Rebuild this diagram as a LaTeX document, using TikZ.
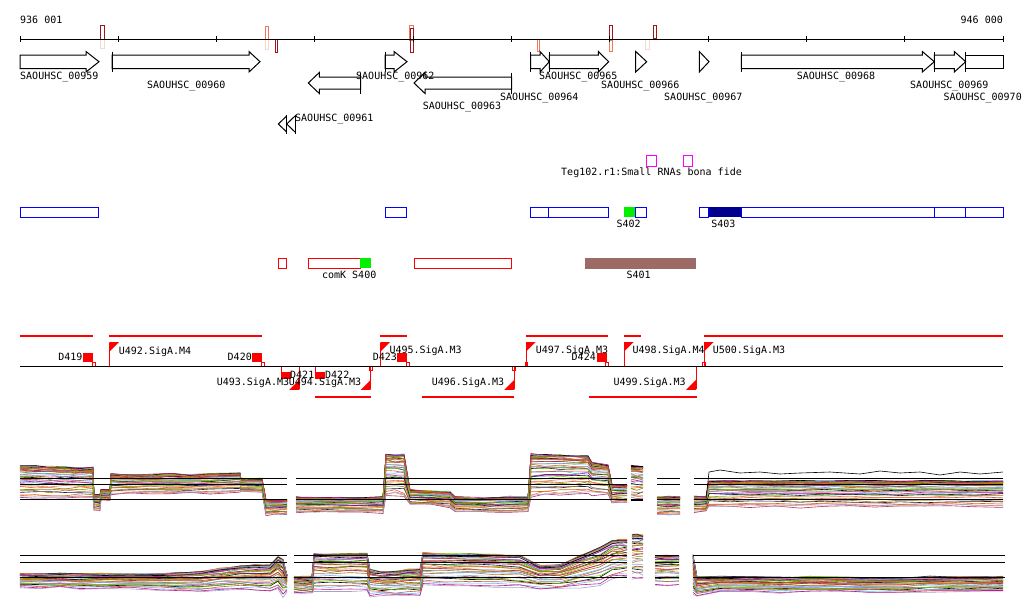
\documentclass[tikz,border=0pt]{standalone}
\usepackage{fontspec}
\newfontfamily\monof{DejaVu Sans Mono}
\definecolor{dred}{HTML}{A0141E}
\definecolor{salm}{HTML}{F0785A}
\definecolor{lpink}{HTML}{F8D8CC}
\definecolor{sbrown}{HTML}{9C6B66}
\definecolor{navyb}{HTML}{00008C}
\definecolor{mag}{HTML}{FF00FF}
\definecolor{grn}{HTML}{00F000}
\definecolor{tured}{HTML}{FF0000}
\definecolor{pc0}{HTML}{D2691E}
\definecolor{pc1}{HTML}{8B8B00}
\definecolor{pc2}{HTML}{66CD00}
\definecolor{pc3}{HTML}{63B8FF}
\definecolor{pc4}{HTML}{B03060}
\definecolor{pc5}{HTML}{1A1A5A}
\definecolor{pc6}{HTML}{CD5C3C}
\definecolor{pc7}{HTML}{A2A2D0}
\definecolor{pc8}{HTML}{A0782B}
\definecolor{pc9}{HTML}{EE7942}
\definecolor{pc10}{HTML}{C71585}
\definecolor{pc11}{HTML}{000000}
\tikzset{
  gene/.style={draw=black,line width=1pt},
  lbl/.style={font=\monof\fontsize{10}{12}\selectfont,inner sep=0pt,text height=7.3pt,text depth=0pt},
  feat/.style={line width=1pt},
  tuline/.style={draw=tured,line width=1.4pt},
  prof/.style={line width=0.6pt},
  thr/.style={line width=1.1pt,draw=black},
}
\newcommand\fgene[3]{\draw[gene] (#1,55)--(#2,55)--(#2,51.5)--(#3,61.7)--(#2,72)--(#2,68.5)--(#1,68.5)--cycle;}
\newcommand\gbar[1]{\draw[gene] (#1,51.5)--(#1,72);}
\newcommand\rgene[3]{\draw[gene] (#3,77)--(#2,77)--(#2,72.5)--(#1,83)--(#2,93.5)--(#2,89)--(#3,89)--cycle;}
\newcommand\rbar[1]{\draw[gene] (#1,72.5)--(#1,93.5);}
\newcommand\fprom[1]{\draw[red,feat] (#1,342.7)--(#1,366); \fill[red] (#1,342.2)--(#1+9.5,342.2)--(#1,351.7)--cycle;}
\newcommand\rprom[1]{\draw[red,feat] (#1,366)--(#1,389.3); \fill[red] (#1,389.8)--(#1-10,389.8)--(#1,379.8)--cycle;}
\newcommand\tterm[1]{\fill[red] (#1,353.3) rectangle ++(10,8.7); \draw[red,line width=0.8pt] (#1+9,362) rectangle ++(2.6,4);}
\newcommand\bterm[1]{\draw[red,feat] (#1,366)--(#1,372); \fill[red] (#1,371.7) rectangle ++(9.5,7.6);}
\newcommand\exbundle[5]{%
\foreach \i in {1,...,38}{%
 \pgfmathsetmacro\ff{(mod(\i*0.618034+#1,1))^2.1}%
 \pgfmathtruncatemacro\ci{mod(\i*7,12)}%
 \draw[prof,draw=pc\ci] (#2,{#3+\ff*(#4-#3)+(rnd-0.5)*2}) \foreach \x/\t/\b in {#5}{ -- (\x,{\t+min(1,max(0,\ff+(rnd-0.5)*0.05))*(\b-\t)+(rnd-0.5)*2})};
}}
\begin{document}
\begin{tikzpicture}[x=1pt,y=-1pt]
\pgfmathsetseed{7}
\useasboundingbox (0,0) rectangle (1024,611);
\fill[white] (0,0) rectangle (1024,611);

% ruler markers
\draw[dred,feat] (100,25) rectangle (104,39);
\draw[lpink,feat] (100,39) rectangle (104,48);
\draw[salm,feat] (265.3,26) rectangle (268.7,39);
\draw[lpink,feat] (265.3,39) rectangle (268.7,49);
\draw[dred,feat] (275,39) rectangle (277.7,52);
\draw[salm,feat] (409,25) rectangle (413,40);
\draw[dred,feat] (410,28) rectangle (413,52);
\draw[salm,feat] (537.3,39) rectangle (539.3,51);
\draw[dred,feat] (609.3,25) rectangle (612.7,40);
\draw[salm,feat] (609.3,40) rectangle (612.7,51);
\draw[lpink,feat] (645,39) rectangle (649.3,49);
\draw[dred,feat] (653.3,25) rectangle (656.3,38);

% ruler
\draw[black,line width=1pt] (20,39)--(1003,39);
\foreach \k in {0,...,10}{\draw[black,line width=1pt] ({20+\k*98.3},36)--({20+\k*98.3},42);}
\node[lbl,anchor=west] (r1) at (20,20) {936 001};
\node[lbl,anchor=east] (r2) at (1003,20) {946 000};

% genes
\fgene{20}{86}{99}
\fgene{112}{249}{260} \gbar{112}
\fgene{385}{394}{407} \gbar{385}
\fgene{530.7}{540}{549.3} \gbar{530.7}
\fgene{549.3}{598.3}{608.7} \gbar{549.3}
\draw[gene] (635.7,51.5)--(646.7,61.7)--(635.7,72)--cycle;
\draw[gene] (699.3,51.5)--(709,61.7)--(699.3,72)--cycle;
\fgene{741.3}{922.3}{934.3} \gbar{741.3}
\fgene{934.3}{954.3}{965.7} \gbar{934.3}
\draw[gene] (965.7,55) rectangle (1003.3,68.5); \gbar{965.7}
\rgene{308.3}{319.3}{360.7} \rbar{360.7}
\rgene{414}{425}{511.7} \rbar{511.7}
\draw[gene] (286.7,116)--(278.3,124)--(286.7,132);
\draw[gene] (295,116)--(286.7,124)--(295,132);
\draw[gene] (286.7,114.5)--(286.7,134);
\draw[gene] (295,114.5)--(295,134);

\node[lbl,anchor=west] (l959) at (20,76) {SAOUHSC\_00959};
\node[lbl,anchor=west] (l960) at (147,85) {SAOUHSC\_00960};
\node[lbl,anchor=west] (l961) at (295,118.3) {SAOUHSC\_00961};
\node[lbl,anchor=west] (l962) at (356,76) {SAOUHSC\_00962};
\node[lbl,anchor=west] (l963) at (422.7,106) {SAOUHSC\_00963};
\node[lbl,anchor=west] (l964) at (500,97.3) {SAOUHSC\_00964};
\node[lbl,anchor=west] (l965) at (539,76) {SAOUHSC\_00965};
\node[lbl,anchor=west] (l966) at (601,85) {SAOUHSC\_00966};
\node[lbl,anchor=west] (l967) at (664,97.3) {SAOUHSC\_00967};
\node[lbl,anchor=west] (l968) at (796.7,76) {SAOUHSC\_00968};
\node[lbl,anchor=west] (l969) at (910,85) {SAOUHSC\_00969};
\node[lbl,anchor=west] (l970) at (943.3,97.3) {SAOUHSC\_00970};

% small RNAs
\draw[mag,feat] (646.3,155.3) rectangle (656.7,166);
\draw[mag,feat] (683.3,155.3) rectangle (692.7,166);
\node[lbl,anchor=west] (teg) at (561,172.3) {Teg102.r1:Small RNAs bona fide};

% blue row
\fill[grn] (624,207.3) rectangle (635.3,217.3);
\fill[navyb] (708.7,207.3) rectangle (741.3,217.3);
\draw[blue,feat] (20,207.3) rectangle (98.7,217.3);
\draw[blue,feat] (385.3,207.3) rectangle (406.7,217.3);
\draw[blue,feat] (530.3,207.3) rectangle (548.7,217.3);
\draw[blue,feat] (548.7,207.3) rectangle (608.7,217.3);
\draw[blue,feat] (635.3,207.3) rectangle (646.7,217.3);
\draw[blue,feat] (699.7,207.3) rectangle (708.7,217.3);
\draw[blue,feat] (741.3,207.3) rectangle (934.3,217.3);
\draw[blue,feat] (934.3,207.3) rectangle (965.3,217.3);
\draw[blue,feat] (965.3,207.3) rectangle (1003.3,217.3);
\node[lbl] (s402) at (628.7,224) {S402};
\node[lbl] (s403) at (723.3,224) {S403};

% red row
\draw[red,feat] (278.3,258.3) rectangle (286.7,268.3);
\draw[red,feat] (308.3,258.3) rectangle (360,268.3);
\fill[grn] (360,258.3) rectangle (371,268.3);
\draw[red,feat] (414.3,258.3) rectangle (511.7,268.3);
\fill[sbrown] (585,258) rectangle (696,268.7);
\node[lbl] (s400) at (349.2,275) {comK S400};
\node[lbl] (s401) at (638.7,275) {S401};

% transcription units
\draw[tuline] (20,336)--(92.7,336);
\draw[tuline] (109.3,336)--(261.7,336);
\draw[tuline] (380,336)--(406.7,336);
\draw[tuline] (525.7,336)--(607.7,336);
\draw[tuline] (624,336)--(640.7,336);
\draw[tuline] (704,336)--(1003.3,336);
\draw[tuline] (315.3,397)--(370.7,397);
\draw[tuline] (422.3,397)--(514.3,397);
\draw[tuline] (589.3,397)--(696.7,397);

\tterm{83.3}
\tterm{252.3}
\tterm{397.3}
\tterm{596.7}
\bterm{281}
\bterm{315.3}
\fprom{109.3}
\fprom{380.3}
\fprom{526}
\fill[red] (524.5,362) rectangle (528,366);
\fprom{624}
\fprom{704}
\draw[red,line width=0.8pt] (702,362) rectangle (705,366);
\rprom{299.3}
\rprom{370.7}
\draw[red,line width=0.8pt] (369.3,366.5) rectangle (372.3,370);
\rprom{514.3}
\draw[red,line width=0.8pt] (512.8,366.5) rectangle (515.8,370);
\rprom{696}
\draw[black,line width=1pt] (20,366)--(1003,366);

\node[lbl,anchor=east] (d419) at (82.7,356.7) {D419};
\node[lbl,anchor=east] (d420) at (252,356.7) {D420};
\node[lbl,anchor=west] (d421) at (290,375) {D421};
\node[lbl,anchor=west] (d422) at (325,375) {D422};
\node[lbl,anchor=west] (d423) at (372.7,357.3) {D423};
\node[lbl,anchor=east] (d424) at (596,357.3) {D424};
\node[lbl,anchor=west] (u492) at (118.7,350.7) {U492.SigA.M4};
\node[lbl,anchor=east] (u493) at (289.3,382.3) {U493.SigA.M3};
\node[lbl,anchor=west] (u494) at (288.7,382.3) {U494.SigA.M3};
\node[lbl,anchor=west] (u495) at (389.3,350) {U495.SigA.M3};
\node[lbl,anchor=west] (u496) at (431.7,382.3) {U496.SigA.M3};
\node[lbl,anchor=west] (u497) at (535.7,350) {U497.SigA.M3};
\node[lbl,anchor=west] (u498) at (632.3,350) {U498.SigA.M4};
\node[lbl,anchor=west] (u499) at (613.3,382.3) {U499.SigA.M3};
\node[lbl,anchor=west] (u500) at (712.7,350) {U500.SigA.M3};

% expression profiles - upper panel
\exbundle{0.1}{20}{466}{499}{35/466/499, 50/467/499, 65/467/499, 80/468/499, 93/468/499, 94/495/510, 100/495/510, 101/490/500, 110/490/500, 111/474/495, 130/475/494, 150/475/494, 170/474/494, 190/475/494, 210/474/494, 240/473/493, 241/479/492, 262/479/492, 266/500/515, 276/500/515, 287/500/515}
\exbundle{0.1}{296}{497}{513}{315/498/512, 340/498/512, 360/498/512, 383/497/513, 386/454/497, 395/455/497, 404/455/498, 410/490/505, 430/491/505, 450/492/507, 455/497/512, 475/498/512, 490/498/512, 510/497/512, 528/497/512, 531/454/498, 545/455/496, 560/455/496, 575/456/495, 588/456/494, 592/463/495, 608/465/496, 612/485/503, 620/485/503, 627/485/503}
\exbundle{0.1}{631}{466}{500}{637/466/500, 643/466/500}
\exbundle{0.1}{657}{497}{515}{668/497/515, 680/497/515}
\exbundle{0.1}{694}{497}{512}{706/497/512, 709/481/507, 730/481/507, 750/481/507, 775/481/507, 800/481/508, 825/481/507, 850/481/507, 875/481/507, 900/481/507, 925/481/507, 950/481/507, 975/481/507, 1003/481/507}
\draw[prof,black] (706,499)--(709,472)--(720,470)--(740,473)--(760,472)--(780,474)--(800,473)--(830,472)--(860,474)--(880,471)--(900,473)--(920,472)--(940,475)--(960,472)--(980,474)--(1003,472);
% lower panel
\exbundle{0.37}{20}{574}{588}{40/574/588, 60/574/588, 80/574/589, 100/574/589, 130/574/589, 160/574/590, 180/573/591, 200/572/592, 220/569/591, 240/566/590, 255/565/591, 270/565/592, 278/557/590, 283/560/598, 287/575/592}
\exbundle{0.37}{294}{577}{594}{303/577/594, 312/577/594, 314/554/592, 330/554/592, 350/554/592, 367/554/592, 370/570/596, 382/572/596, 395/572/596, 408/570/596, 420/570/596, 423/553/586, 445/554/587, 470/554/587, 495/555/588, 520/556/588, 540/566/590, 560/565/590, 580/556/588, 600/548/585, 612/541/580, 620/540/578, 627/540/578}
\exbundle{0.37}{632}{535}{580}{637/535/580, 643/535/580}
\exbundle{0.37}{655}{556}{586}{667/556/586, 679/556/586}
\exbundle{0.37}{693}{555}{595}{697/577/597, 720/577/592, 750/577/592, 780/578/593, 810/577/592, 840/577/592, 870/578/593, 900/578/593, 930/577/592, 960/577/592, 985/577/592, 1003/577/592}

% thresholds
\foreach \a/\b in {20/287.3, 296/627, 657/680, 694/1003.3}{
  \draw[thr] (\a,478.7)--(\b,478.7);
  \draw[thr] (\a,484.3)--(\b,484.3);
  \draw[thr] (\a,499.3)--(\b,499.3);
}
\draw[thr] (631,466.7)--(643,466.7);
\draw[thr] (631,500)--(643,500);
\foreach \a/\b in {20/287, 294/627, 655/679, 693/1005}{
  \draw[thr] (\a,555.3)--(\b,555.3);
  \draw[thr] (\a,562.3)--(\b,562.3);
  \draw[thr] (\a,577.3)--(\b,577.3);
}
\end{tikzpicture}
\end{document}
